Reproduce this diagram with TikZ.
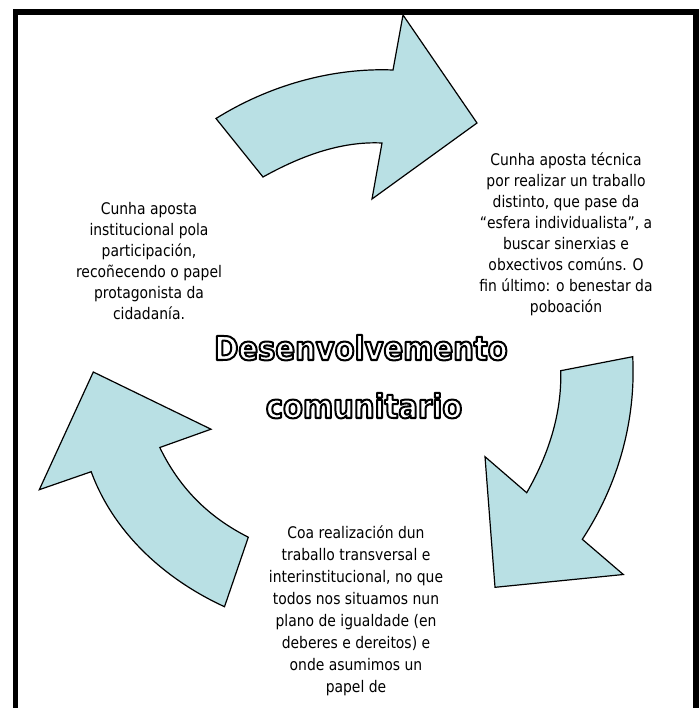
\documentclass[tikz,border=0pt]{standalone}
\usepackage{fontspec}
\setmainfont{DejaVu Sans}[FakeStretch=0.87]
\newfontfamily\titlefont{DejaVu Sans}[FakeStretch=0.88]
\definecolor{arrowfill}{RGB}{185,224,228}
\newcommand{\hollowtext}[1]{{\color{white}\special{pdf:literal direct 0 G 2 w 1 j 2 Tr}#1\special{pdf:literal direct 0 Tr}}}
\tikzset{
  arrowshape/.style={fill=arrowfill, draw=black, line width=1.2pt, line join=miter},
  bodytext/.style={align=center, font=\fontsize{16}{21}\selectfont, inner sep=0pt},
  titletext/.style={font=\titlefont\bfseries\fontsize{33}{40}\selectfont, inner sep=0pt, anchor=base},
  frameline/.style={draw=black, line width=5.5pt}
}
\begin{document}
\begin{tikzpicture}[x=1pt,y=-1pt]
\useasboundingbox (0,0) rectangle (699,708);
\clip (0,0) rectangle (699,708);
\fill[white] (0,0) rectangle (699,708);
% frame
\draw[frameline] (15.5,730) -- (15.5,12) -- (696,12) -- (696,730);
% top arrow
\draw[arrowshape] (403,15) -- (477,123) -- (372,199) -- (382,143)
  .. controls (340,141) and (299.5,156.7) .. (263,177) -- (216,118.5)
  .. controls (268,86) and (331,67.5) .. (393,70) -- cycle;
% right arrow
\draw[arrowshape] (632.7,356.7) -- (560.7,370.7)
  .. controls (562,414) and (548,455.7) .. (526.7,492.7) -- (485,456.7)
  -- (495,587.3) -- (623.3,574.5) -- (582.3,539.3)
  .. controls (618,485) and (636,421) .. (632.7,356.7) -- cycle;
% left arrow
\draw[arrowshape] (93.3,372) -- (211,429.2) -- (159.8,447.5)
  .. controls (179.4,488) and (208.3,517) .. (248.3,537.2) -- (224.5,606.7)
  .. controls (165,579.4) and (113.5,532.8) .. (91.2,471.7) -- (39.3,489.7) -- cycle;
% texts
\node[bodytext] (institucional) at (149,261) {Cunha aposta\\institucional pola\\participación,\\recoñecendo o papel\\protagonista da\\cidadanía.};
\node[bodytext] (tecnica) at (566,234) {Cunha aposta técnica\\por realizar un traballo\\distinto, que pase da\\“esfera individualista”, a\\buscar sinerxias e\\obxectivos comúns. O\\fin último: o benestar da\\poboación};
\node[bodytext, font=\fontsize{16}{22}\selectfont] (transversal) at (356,610.5) {Coa realización dun\\traballo transversal e\\interinstitucional, no que\\todos nos situamos nun\\plano de igualdade (en\\deberes e dereitos) e\\onde asumimos un\\papel de};
\node[titletext] (titulo1) at (361,360) {\hollowtext{Desenvolvemento}};
\node[titletext] (titulo2) at (364,418) {\hollowtext{comunitario}};
\end{tikzpicture}
\end{document}
